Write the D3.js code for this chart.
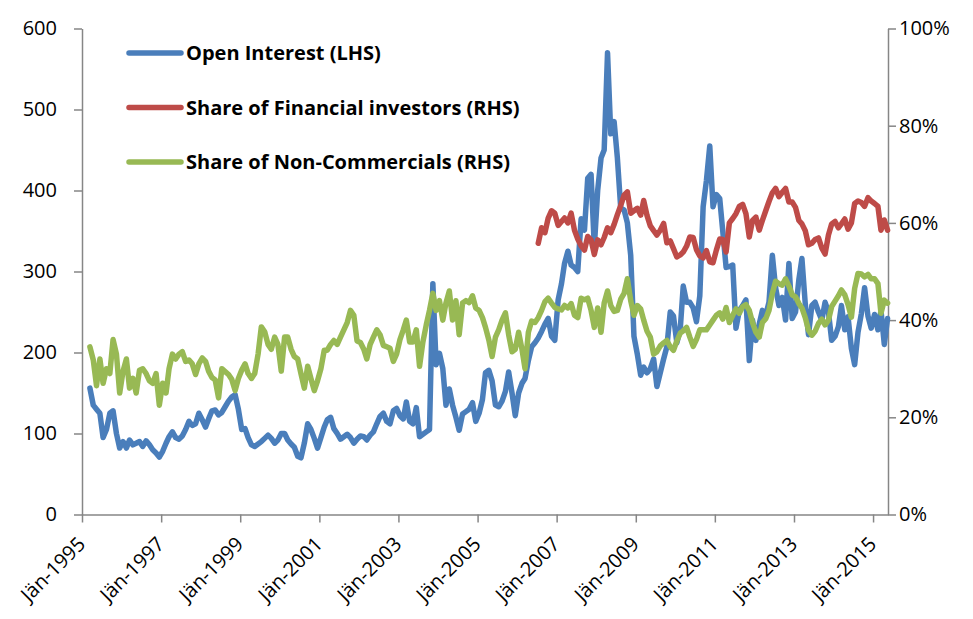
<!DOCTYPE html>
<html lang="de">
<head>
<meta charset="utf-8">
<title>Open Interest</title>
<script src="https://cdn.jsdelivr.net/npm/d3@7"></script>
<style>
  body { margin: 0; background: #fff; }
  svg { display: block; font-family: "Open Sans", sans-serif; }
  .axis path, .axis line { stroke: #868686; stroke-width: 1.5; }
  .axis text { fill: #000; font-size: 20px; font-family: "Open Sans", sans-serif; }
</style>
</head>
<body>
<svg id="chart" width="973" height="619"></svg>
<script>
// monthly readings, first value = start month
const oiStart = "1995-03";
const openInterest = [156,135,130,125,95,105,125,128,100,82,
  90,82,92,86,88,90,84,91,86,80, 76,71,78,88,96,102,95,93,97,105,
  115,110,112,125,117,108,118,128,129,123, 126,133,140,145,148,130,105,106,95,86,
  84,87,90,94,98,94,88,92,100,100, 92,87,83,72,70,88,112,105,94,82,
  95,108,117,120,106,100,93,96,99,95, 88,93,97,96,92,98,102,112,121,125,
  115,112,128,131,122,118,139,115,112,132, 96,99,102,105,285,185,199,180,135,155,
  135,120,104,124,127,130,138,115,125,142, 175,178,165,135,133,140,152,176,150,122,
  150,162,168,190,207,212,218,226,235,242, 220,215,265,285,310,325,308,305,300,365,
  351,415,420,330,400,440,450,570,470,485, 440,378,376,360,320,220,198,172,182,175,
  180,192,158,175,192,207,250,245,212,228, 282,262,262,255,238,270,380,412,455,380,
  395,390,350,305,306,308,230,252,258,265, 190,240,215,235,252,246,262,320,280,258,
  268,240,310,242,250,290,316,260,222,258, 262,250,240,262,250,215,220,232,258,228,
  244,205,185,225,248,280,245,230,247,228, 252,210,242];

const ncStart = "1995-03";
const nonCommercials = [34.5,31.8,26.5,32,27,30,29,36,33,25,
  29.5,32,26,28,25,29.7,30,29,27.5,27, 29,22.5,27,25,30,33,32,33,33.5,31.5,
  31.8,31,28.8,31,32.2,31.5,29.5,28.2,27.7,24, 30,29.4,28.8,27.8,25.5,28,29.7,31,29,28,
  29,33,38.6,37.6,35,34,36.5,35,29.5,36.5, 36.5,34,32.5,32,29,26,30.5,28,25.5,27.5,
  30,33.8,33.8,35,35.8,35,36.5,38,39.5,42, 41,35.7,35.4,34,32,35,36.5,38,37,34.8,
  34.5,34.2,31.5,33,36,38,40,35.5,35.5,38, 30.5,35.5,39,42,45.5,42,44,40,43.5,46,
  40,44,37,43.5,44,43.6,45,42.5,42,40.5, 38.5,35.9,32.5,36.5,38,40,41.5,37,33.5,34,
  37.5,34,30,37.5,39.8,39.5,40.5,42,43.8,44.5, 43.5,42.6,42.3,42.1,43,42.5,43.4,41,40.5,44.5,
  44.2,44.5,42,38.5,42.5,37.5,43.5,46,43,41.8, 42,44.3,45.5,48.5,44,41,43,42.3,40,37.7,
  36.5,33,33.5,34.7,35.3,35.8,34.5,33.8,35.7,37.3, 37.8,38.5,36.5,34.6,36,38,38,38,39,40,
  41,41.5,40.2,42.6,39.5,41,42.3,41.4,42.8,43.2, 42,39.5,37.5,36.5,39.5,40.3,42,45.5,48,47.5,
  47.2,48.5,47,45.2,44.8,43.4,42.5,40.5,37.9,36.9, 37.7,39.3,40.2,39,40,42.8,43.9,45,46.2,45.2,
  43.2,40.6,46.5,49.6,49.5,48.9,49.4,48.5,48.5,47.5, 41.4,44.1,43.5];

const fiStart = "2006-07";
const financialInvestors = [55.8,59,58,61,62.5,62,59.5,60.3,61,60,
  62,58.5,56.7,55.3,54.4,57.2,56.5,53.5,56.5,55.5, 57,59,58,59.7,61.7,63.6,65.7,66.4,62,62.5,
  63,61.6,64.6,61.5,59.4,58.4,57.5,58.5,59.9,55.9, 56.3,54.7,53,53.4,54,55.2,57.1,57,54.5,53.2,
  52.8,54.3,52,51.8,54.4,56.7,56.6,54,60,60.9, 61.9,63.4,63.8,61.9,57.1,60.5,61.2,58.5,60.5,62.5,
  64.4,66.2,67.1,65.4,66.3,67.1,64.3,64.3,63.2,60.5, 59.8,58.4,55.5,55.8,56.6,56.9,54.8,53.6,57.5,59.8,
  60.3,59,59.8,60.8,58.7,60,64,64.5,64.2,63.4, 65.2,64.5,64,63.4,58.5,60.6,58.5];

const leftTicks = [0,100,200,300,400,500,600];
const rightTicks = [0,0.2,0.4,0.6,0.8,1];
const yearTicks = [1995,1997,1999,2001,2003,2005,2007,2009,2011,2013,2015];

const series = [
  {name: "Open Interest (LHS)", color: "#4a7ebb", start: oiStart, values: openInterest, axis: "left"},
  {name: "Share of Financial investors (RHS)", color: "#be4b48", start: fiStart, values: financialInvestors, axis: "right"},
  {name: "Share of Non-Commercials (RHS)", color: "#98b954", start: ncStart, values: nonCommercials, axis: "right"}
];

const svg = d3.select("#chart");
const parseMonth = d3.timeParse("%Y-%m");

const x = d3.scaleTime()
  .domain([new Date(1995, 0, 1), new Date(2015, 4, 19)])
  .range([82, 888]);
const yL = d3.scaleLinear().domain([0, 600]).range([514.5, 28.5]);
const yR = d3.scaleLinear().domain([0, 1]).range([514.5, 28.5]);

// axes
svg.append("g").attr("class", "axis")
  .attr("transform", "translate(82,0)")
  .call(d3.axisLeft(yL).tickValues(leftTicks).tickSize(8).tickSizeOuter(0).tickPadding(17));

svg.append("g").attr("class", "axis")
  .attr("transform", "translate(888,0)")
  .call(d3.axisRight(yR).tickValues(rightTicks).tickSize(8).tickSizeOuter(0).tickPadding(3)
    .tickFormat(d3.format(".0%")));

const xAxis = svg.append("g").attr("class", "axis")
  .attr("transform", "translate(0,514.5)")
  .call(d3.axisBottom(x)
    .tickValues(yearTicks.map(y => new Date(y, 0, 1)))
    .tickSize(8).tickSizeOuter(0)
    .tickFormat(d => "Jän-" + d.getFullYear()));

xAxis.selectAll("text")
  .attr("x", 0).attr("y", 0).attr("dy", "0")
  .attr("text-anchor", "end")
  .attr("transform", "translate(4,31) rotate(-45)");

svg.selectAll(".axis .domain").attr("fill", "none");

// lines
series.forEach(s => {
  const t0 = parseMonth(s.start);
  const pts = s.values.map((v, i) => ({date: d3.timeDay.offset(d3.timeMonth.offset(t0, i), 14), value: s.axis === "left" ? v : v / 100}));
  const y = s.axis === "left" ? yL : yR;
  svg.append("path")
    .datum(pts)
    .attr("fill", "none")
    .attr("stroke", s.color)
    .attr("stroke-width", 5.5)
    .attr("stroke-linejoin", "round")
    .attr("stroke-linecap", "round")
    .attr("d", d3.line().x(d => x(d.date)).y(d => y(d.value)));
});

// legend
const legend = svg.append("g").selectAll("g")
  .data(series)
  .join("g")
  .attr("transform", (d, i) => `translate(127,${53 + i * 54.5})`);

legend.append("line")
  .attr("x1", 2).attr("x2", 54)
  .attr("stroke", d => d.color)
  .attr("stroke-width", 5.5)
  .attr("stroke-linecap", "round");

legend.append("text")
  .attr("x", 59).attr("dy", "0.36em")
  .attr("font-size", 20).attr("font-weight", "bold")
  .text(d => d.name);
</script>
</body>
</html>
